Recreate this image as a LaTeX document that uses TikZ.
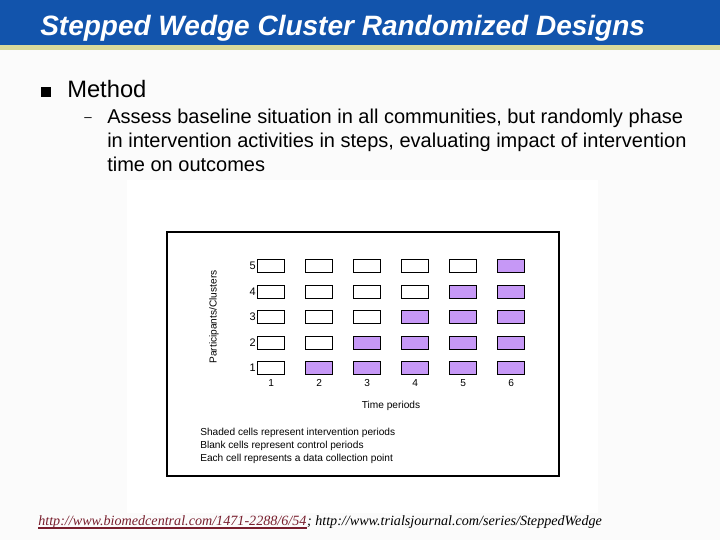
\documentclass[tikz,border=0pt]{standalone}
\usepackage{fontspec}
\setmainfont{Liberation Sans}
\newfontfamily\refserif{Liberation Serif}
\usetikzlibrary{positioning}

\definecolor{titleblue}{RGB}{18,84,172}
\definecolor{stripe}{RGB}{217,217,155}
\definecolor{slidebg}{RGB}{251,251,251}
\definecolor{shade}{RGB}{198,152,246}
\definecolor{linkred}{RGB}{120,30,45}

\tikzset{
  cell/.style={draw=black, line width=1pt, minimum width=20.25pt, minimum height=9.75pt,
    inner sep=0pt, anchor=north west},
  small/.style={font=\fontsize{7.6}{9}\selectfont, inner sep=0pt},
}

\begin{document}
\begin{tikzpicture}[x=0.75pt, y=-0.75pt]
  % pixel coordinates, y runs downwards
  \useasboundingbox (0,0) rectangle (720,540);
  \fill[slidebg] (0,0) rectangle (720,540);
  % ---------------------------------------------------------------- title bar
  \fill[titleblue] (0,0) rectangle (720,45);
  \fill[stripe] (0,45) rectangle (720,50);
  \node[anchor=west, text=white, inner sep=0pt,
    font=\fontsize{21}{25}\selectfont\bfseries\itshape] (title) at (40,28)
    {Stepped Wedge Cluster Randomized Designs};
  % ---------------------------------------------------------------- bullets
  \fill (41,87) rectangle (51,97);
  \node[anchor=base west, inner sep=0pt, font=\fontsize{17.8}{21}\selectfont] (method) at (67,97) {Method};
  \node[inner sep=0pt, font=\fontsize{10}{12}\selectfont] (dash) at (88,120) {--};
  \begin{scope}[every node/.style={anchor=base west, inner sep=0pt, font=\fontsize{15}{18}\selectfont}]
    \node (line1) at (107,123) {Assess baseline situation in all communities, but randomly phase};
    \node (line2) at (107,147) {in intervention activities in steps, evaluating impact of intervention};
    \node (line3) at (107,171) {time on outcomes};
  \end{scope}
  % ---------------------------------------------------------------- figure
  \fill[white] (127,180) rectangle (598,513);
  \draw[line width=1pt] (167,232) rectangle (559,476);
  \foreach \t in {1,...,6}{
    \foreach \c in {1,...,5}{
      \pgfmathtruncatemacro{\on}{\t>\c ? 1 : 0}
      \ifnum\on=1
        \node[cell, fill=shade] (c-\t-\c) at ({257+48*(\t-1)},{259+25.5*(5-\c)}) {};
      \else
        \node[cell, fill=white] (c-\t-\c) at ({257+48*(\t-1)},{259+25.5*(5-\c)}) {};
      \fi
    }
    \node[small, anchor=north] (tl-\t) at ([yshift=-3pt]c-\t-1.south) {\t};
  }
  \foreach \c in {1,...,5}
    \node[small, anchor=east, font=\fontsize{8.2}{9}\selectfont] (cl-\c) at ([xshift=-0.8pt]c-1-\c.west) {\c};
  \node[small, rotate=90] (ylab) at (214,317) {Participants/Clusters};
  \node[small] (xlab) at (391,406) {Time periods};
  \node[small, anchor=base west] (leg1) at (200,435) {Shaded cells represent intervention periods};
  \node[small, anchor=base west] (leg2) at (200,448) {Blank cells represent control periods};
  \node[small, anchor=base west] (leg3) at (200,461) {Each cell represents a data collection point};
  % ---------------------------------------------------------------- source
  \node[anchor=base west, inner sep=0pt, text=linkred, font=\refserif\itshape\fontsize{10.6}{12}\selectfont]
    (link) at (38,525) {http://www.biomedcentral.com/1471-2288/6/54};
  \draw[linkred, line width=1pt] ([yshift=-2.2pt]link.base west) -- ([yshift=-2.2pt]link.base east);
  \node[anchor=base west, inner sep=0pt, font=\refserif\itshape\fontsize{10.6}{12}\selectfont]
    (site) at (link.base east) {; http://www.trialsjournal.com/series/SteppedWedge};
\end{tikzpicture}
\end{document}
